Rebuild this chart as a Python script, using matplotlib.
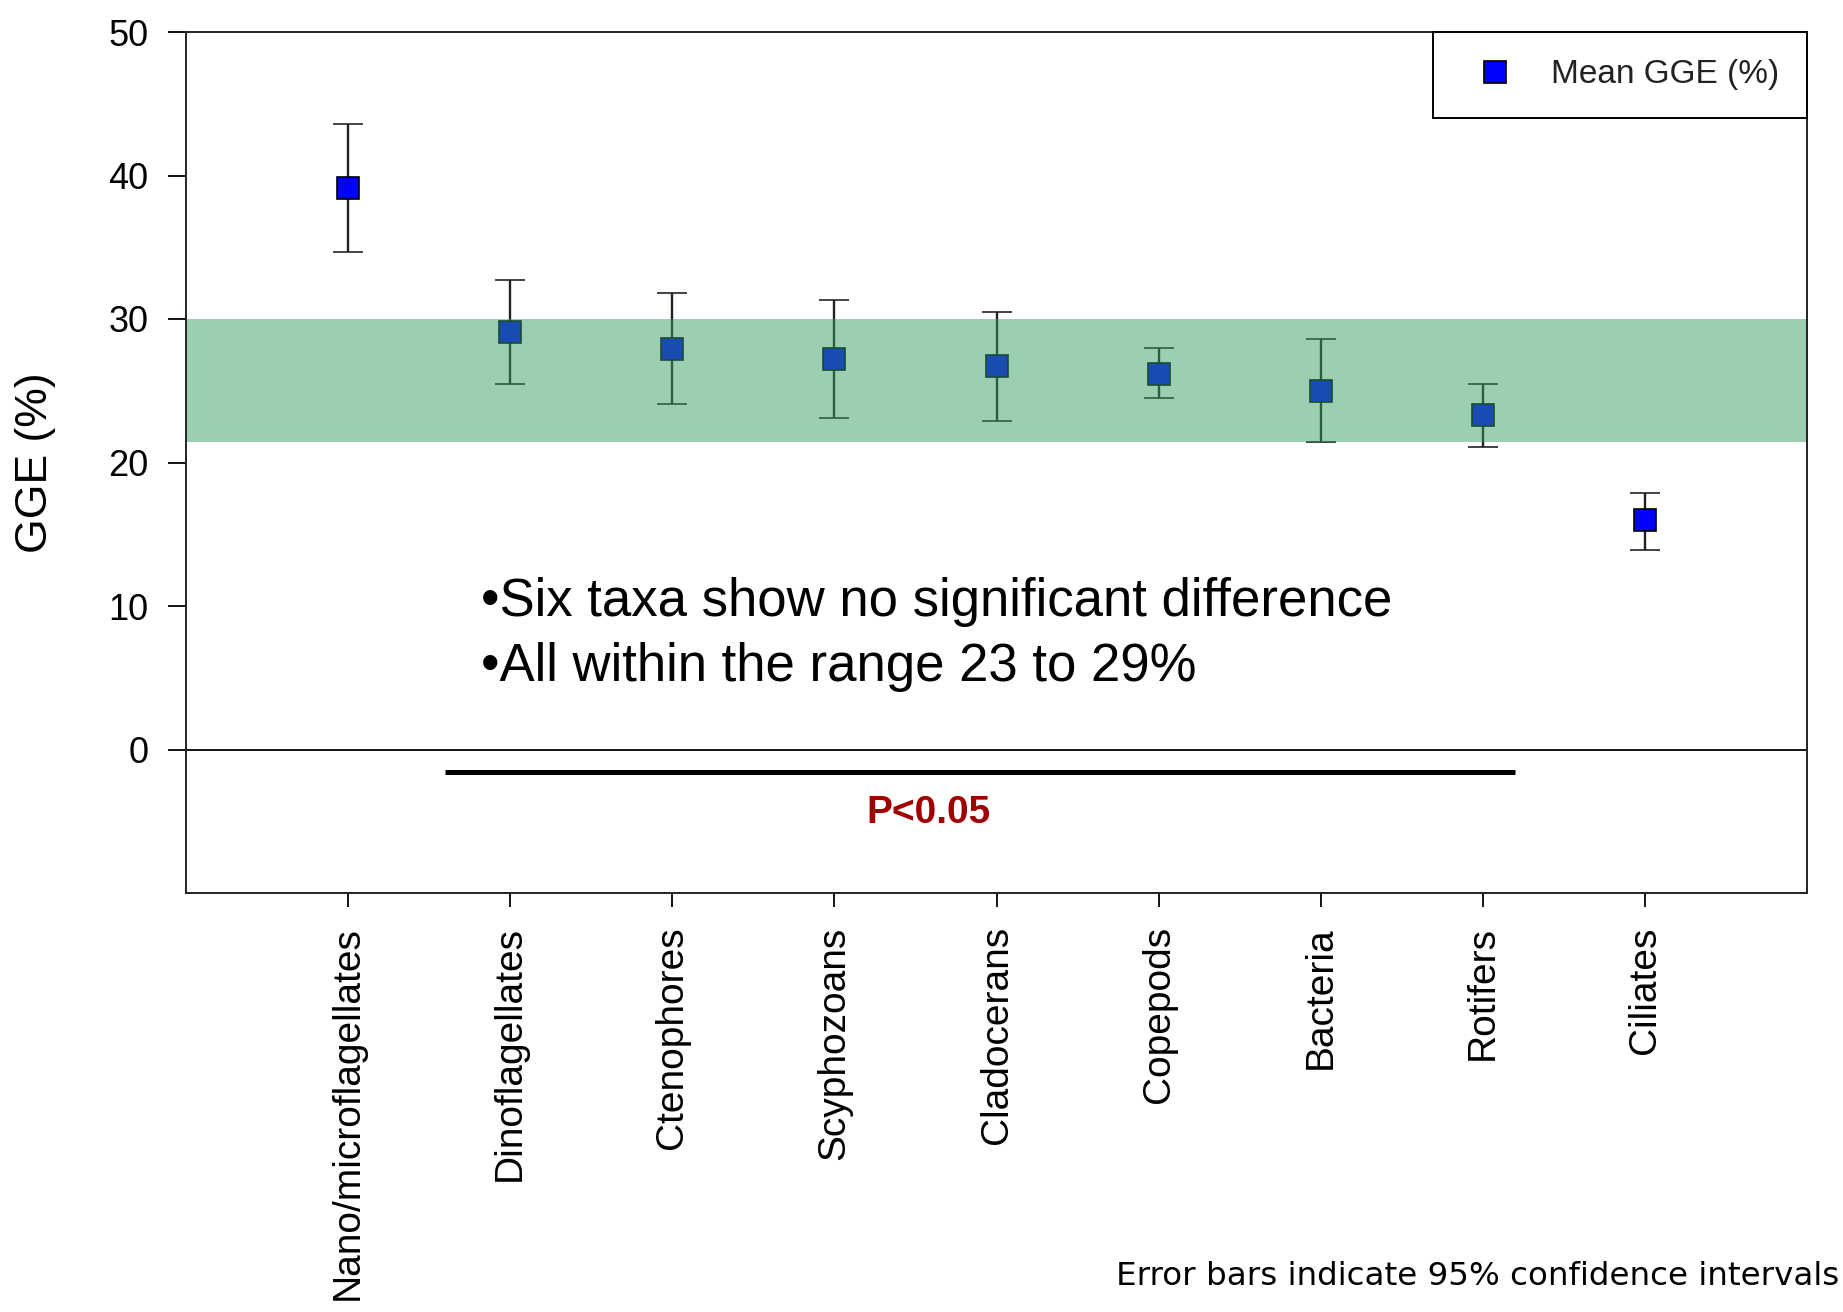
import matplotlib
matplotlib.use("Agg")
import matplotlib.pyplot as plt
from matplotlib.lines import Line2D
import numpy as np

categories = ["Nano/microflagellates", "Dinoflagellates", "Ctenophores", "Scyphozoans",
              "Cladocerans", "Copepods", "Bacteria", "Rotifers", "Ciliates"]
mean_gge = [39.1, 29.1, 27.9, 27.2, 26.7, 26.2, 25.0, 23.3, 16.0]
ci_upper = [43.6, 32.7, 31.8, 31.3, 30.5, 28.0, 28.6, 25.5, 17.9]
ci_lower = [34.7, 25.5, 24.1, 23.1, 22.9, 24.5, 21.4, 21.1, 13.9]
band_range = [21.4, 30.0]
yticks = [0, 10, 20, 30, 40, 50]
sig_line_x = [1.6, 8.2]
sig_line_y = -1.6

plt.rcParams['font.family'] = ['Liberation Sans', 'DejaVu Sans']

fig = plt.figure(figsize=(18.43, 13.12), dpi=100)
ax = fig.add_axes([186/1843, 1 - 893/1312, (1807-186)/1843, (893-32)/1312])

x = np.arange(1, len(categories) + 1)
mean = np.array(mean_gge)
yerr = np.vstack([mean - np.array(ci_lower), np.array(ci_upper) - mean])

ax.errorbar(x, mean, yerr=yerr, fmt='s', color='#222222', ecolor='#222222',
            elinewidth=1.7, capsize=10.5, capthick=1.7,
            markersize=15.5, markerfacecolor='#0000ff', markeredgecolor='black',
            markeredgewidth=1.2, zorder=2)

ax.axhspan(band_range[0], band_range[1], color='#359d62', alpha=0.49, lw=0, zorder=2.2)
ax.axhline(0, color='black', lw=1.3, zorder=2.3)
ax.plot(sig_line_x, [sig_line_y, sig_line_y], color='black', lw=3.6,
        solid_capstyle='butt', zorder=2.3)

ax.text(np.mean(sig_line_x) - 0.32, -4.4, "P<0.05", color='#a00000', fontsize=28,
        fontweight='bold', ha='center', va='center')

ax.text(1.82, 9.3, "\u2022Six taxa show no significant difference", fontsize=38,
        ha='left', va='baseline', color='black')
ax.text(1.82, 4.77, "\u2022All within the range 23 to 29%", fontsize=38,
        ha='left', va='baseline', color='black')

ax.set_xlim(0, 10)
ax.set_ylim(-10, 50)
ax.set_yticks(yticks)
ax.set_yticklabels([str(v) for v in yticks], fontsize=26)
ax.set_xticks(x)
ax.set_xticklabels(categories, rotation=90, fontsize=28)
ax.tick_params(axis='y', direction='out', length=13, width=1.3, pad=14, colors='black')
ax.tick_params(axis='x', direction='out', length=10, width=1.3, pad=14, colors='black')

for s in ax.spines.values():
    s.set_linewidth(1.4)
    s.set_color('#222222')

ax.set_ylabel("GGE (%)", fontsize=32)
ax.yaxis.set_label_coords(-0.08, 0.5)

handle = Line2D([], [], linestyle='none', marker='s', markersize=15.5,
                markerfacecolor='#0000ff', markeredgecolor='black', markeredgewidth=1.2)
leg = ax.legend([handle], ['Mean GGE (%)'], loc='upper right', borderaxespad=0,
                fontsize=24, fancybox=False, frameon=True, edgecolor='black',
                framealpha=1, numpoints=1, handlelength=2.06, handletextpad=0.67,
                borderpad=0.82)
leg.get_frame().set_linewidth(1.4)
for t in leg.get_texts():
    t.set_color('#222222')

fig.text(1839/1843, 1 - 1285/1312, "Error bars indicate 95% confidence intervals",
         fontsize=23.4, family='DejaVu Sans', ha='right', va='baseline', color='black')

fig.savefig("out.png", dpi=100)
